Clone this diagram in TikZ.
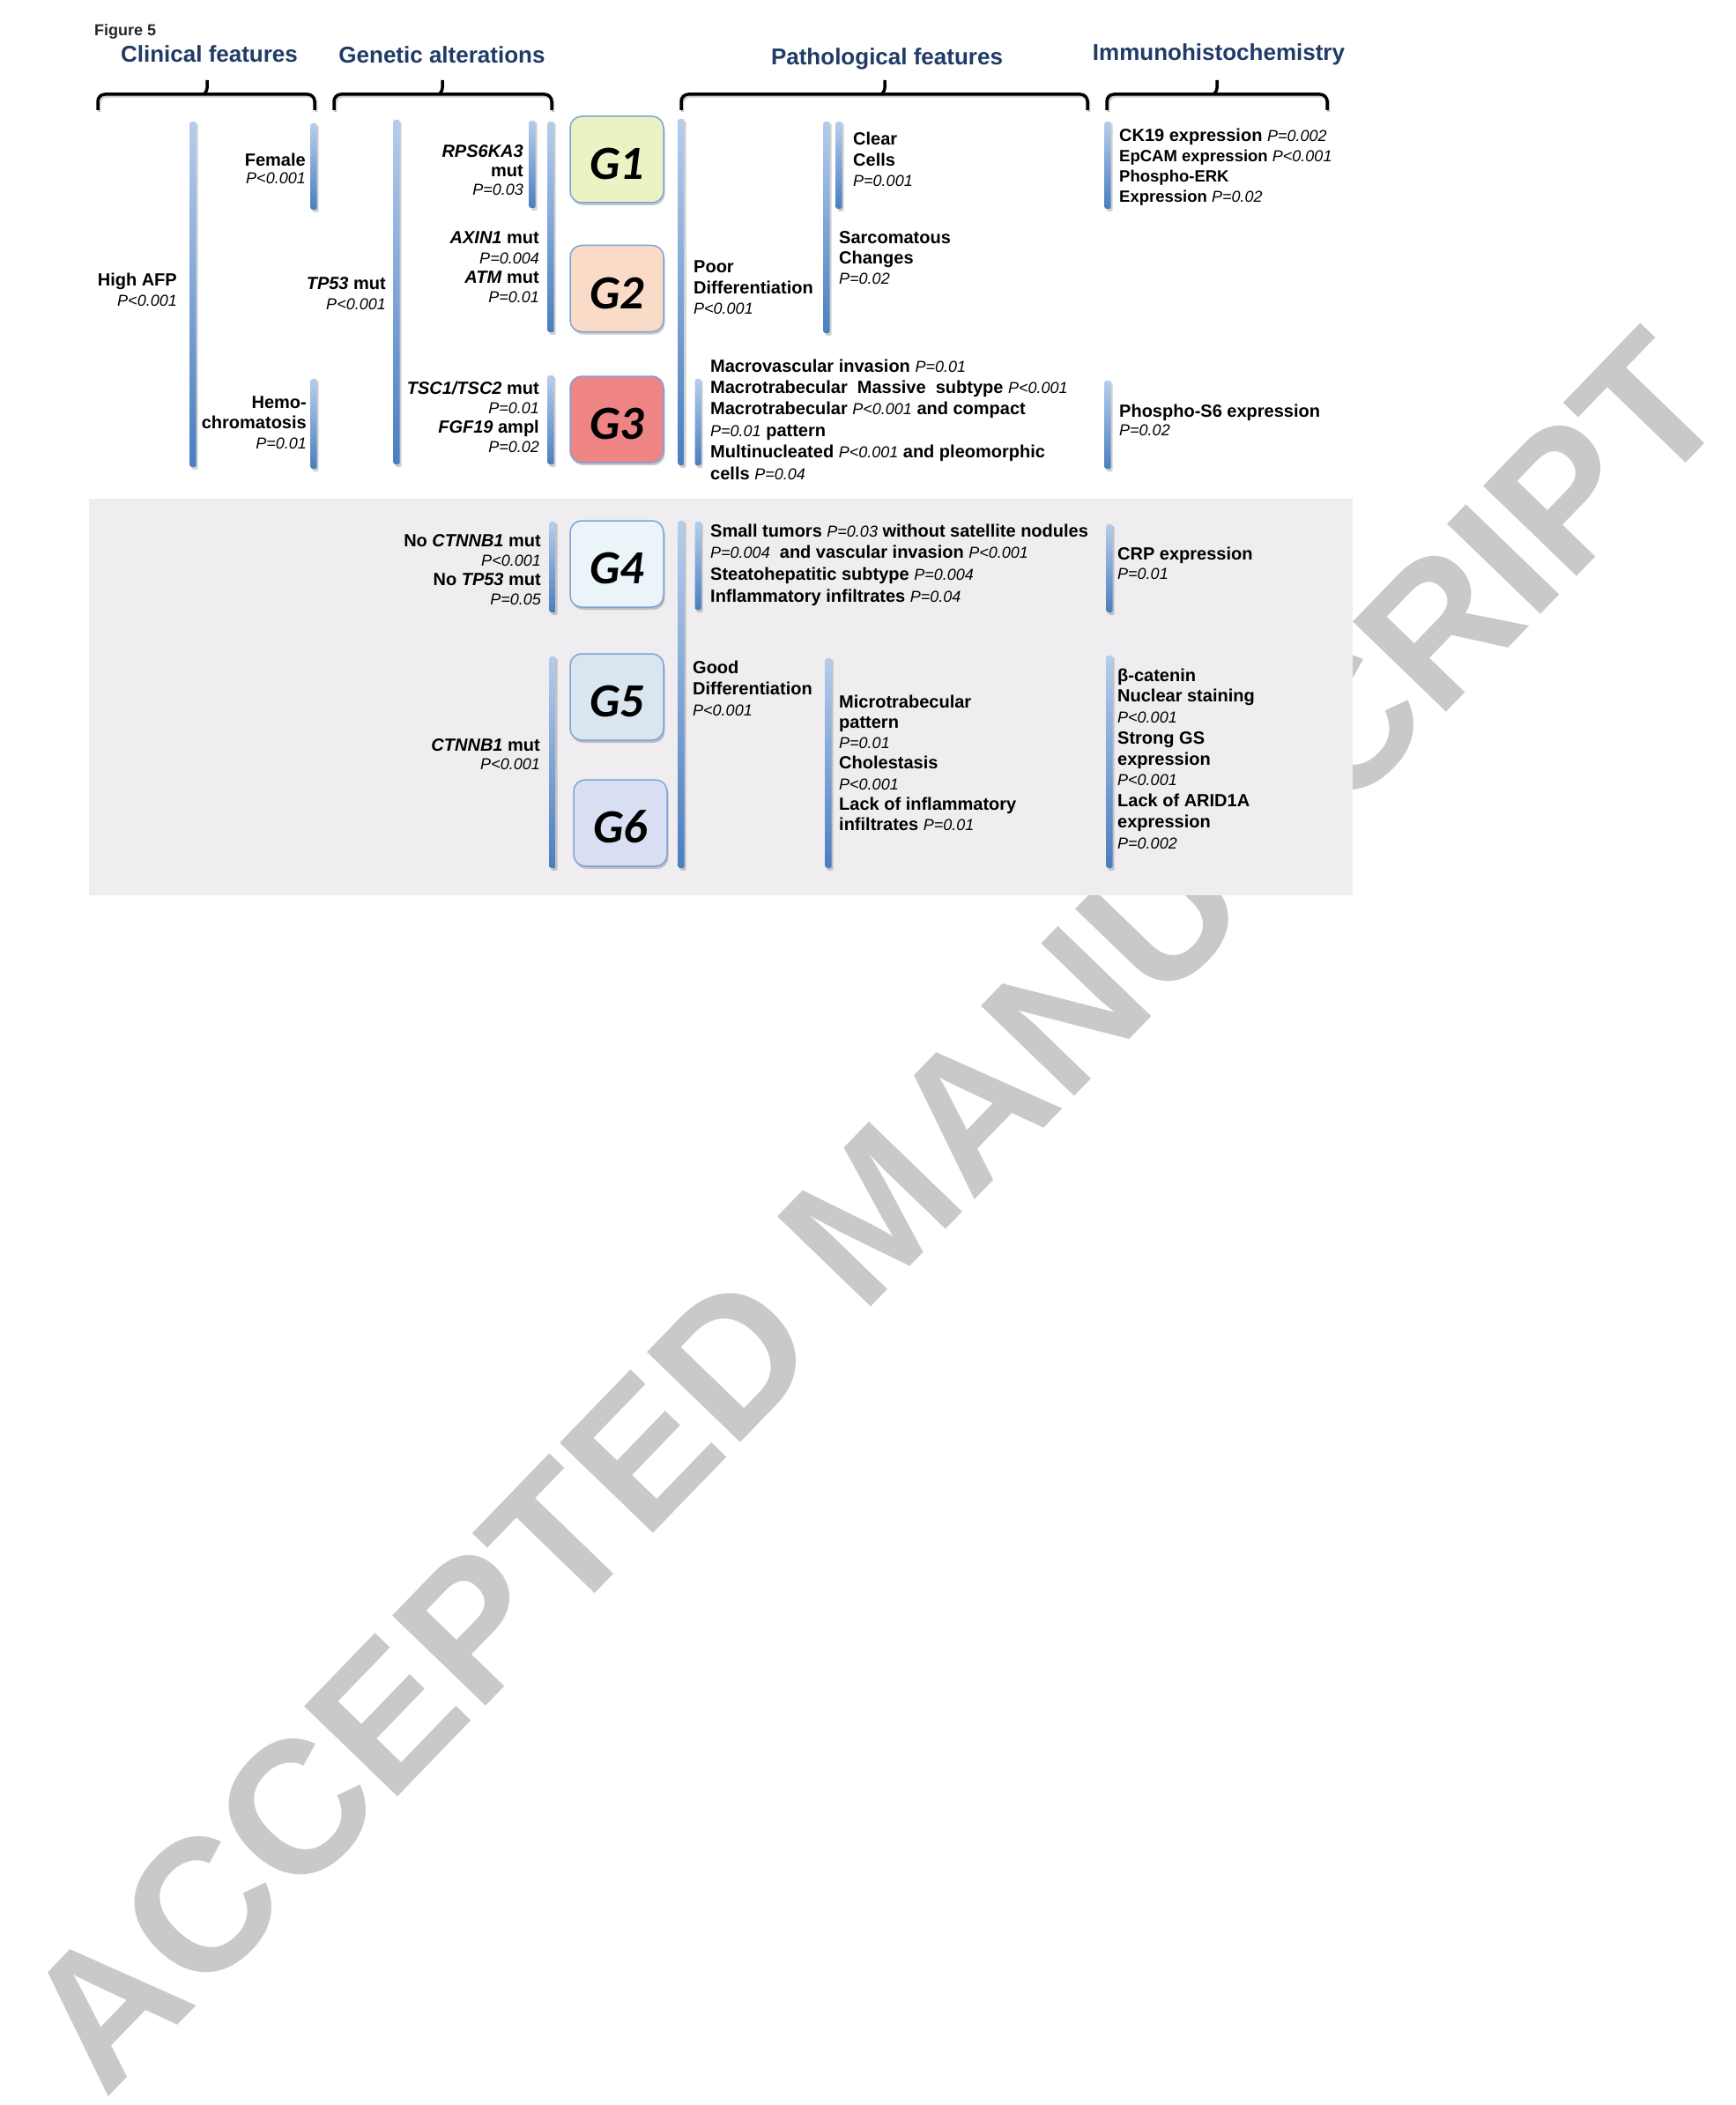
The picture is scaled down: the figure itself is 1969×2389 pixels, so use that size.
\documentclass[tikz,border=0pt]{standalone}
\usepackage{fontspec}
\setmainfont{Liberation Sans}
\newfontfamily\gfont{Carlito}
\usetikzlibrary{shadows}
\definecolor{navy}{HTML}{1F3B66}
\definecolor{wmgray}{HTML}{C8C9CB}
\definecolor{panelc}{HTML}{EFEDF0}
\definecolor{barT}{HTML}{B5CDEC}
\definecolor{barB}{HTML}{4A7EC0}
\definecolor{gborder}{HTML}{7FA3D6}
\definecolor{gA}{HTML}{EBF2C3}
\definecolor{gB}{HTML}{FADBC7}
\definecolor{gC}{HTML}{EF8485}
\definecolor{gD}{HTML}{EAF4F9}
\definecolor{gE}{HTML}{D9E5EF}
\definecolor{gF}{HTML}{D8DFF2}
\newcommand\pv[1]{{\fontsize{18}{22}\selectfont\mdseries\itshape #1}}
\newcommand\smf{\fontsize{18.5}{22}\selectfont}
\newcommand\rlines[2][23pt]{\vtop{\baselineskip=#1\relax\lineskiplimit=-100pt\lineskip=0pt\halign{\hfil##\unskip\cr#2\crcr}}}
\newcommand\llines[2][23pt]{\vtop{\baselineskip=#1\relax\lineskiplimit=-100pt\lineskip=0pt\halign{##\unskip\hfil\cr#2\crcr}}}
\newcommand\gbar[3]{%
  \fill[black,opacity=0.18,rounded corners=1.5pt] (#1-1.5,#2+2) rectangle (#1+5.5,#3+3);
  \shade[top color=barT,bottom color=barB,rounded corners=1.5pt] (#1-3.5,#2) rectangle (#1+3.5,#3);}
\newcommand\hbrace[3]{%
  \draw[brc,black!35,opacity=0.6,shift={(1.5,2)}] (#1,125) -- (#1,107) -- (#3,107) -- (#3,125);
  \draw[brc] (#1,125) -- (#1,107) -- (#3,107) -- (#3,125);
  \draw[line width=3.5pt,rounded corners=3pt] (#2-4,107) -- (#2,103) -- (#2,91);}
\begin{document}
\begin{tikzpicture}[x=1pt,y=-1pt,
  txt/.style={inner sep=0pt,font=\fontsize{20}{23}\selectfont\bfseries},
  rt/.style={txt,anchor=base east},
  lt/.style={txt,anchor=base west},
  hdr/.style={inner sep=0pt,anchor=base,text=navy,font=\fontsize{26}{30}\selectfont\bfseries},
  brc/.style={line width=3.5pt,rounded corners=8pt},
  gbox/.style={draw=gborder,line width=1.5pt,rounded corners=13pt,
    minimum width=106pt,minimum height=98pt,inner sep=0pt,
    text height=45pt,text depth=0pt,
    font=\fontsize{54}{54}\selectfont\gfont\bfseries\itshape,
    drop shadow={shadow xshift=1.5pt,shadow yshift=-3pt,opacity=0.35,fill=black!60}},
]
\useasboundingbox (0,0) rectangle (1969,2389);
\fill[white] (0,0) rectangle (1969,2389);
% watermark
\node[inner sep=0pt,rotate=46,text=wmgray,font=\fontsize{214}{214}\selectfont\bfseries] (wmark) at (992,1374) {ACCEPTED MANUSCRIPT};
% lower panel
\fill[panelc] (101,566) rectangle (1535,1016);

% figure label and headers
\node[inner sep=0pt,anchor=base west,font=\fontsize{18}{20}\selectfont\bfseries,text=black!85] (figlbl) at (107,41) {Figure 5};
\node[hdr] (hclin) at (237.5,71) {Clinical features};
\node[hdr] (hgen) at (501.5,72) {Genetic alterations};
\node[hdr] (hpath) at (1006.5,74) {Pathological features};
\node[hdr] (hihc) at (1383,69) {Immunohistochemistry};

% braces
\hbrace{111}{235}{357}
\hbrace{379}{502}{626}
\hbrace{773}{1004}{1234}
\hbrace{1256}{1381}{1506}

% bars, upper part
\gbar{219}{138}{530}
\gbar{356}{140}{238}
\gbar{356}{430}{532}
\gbar{450}{136}{527}
\gbar{604}{137}{236}
\gbar{625}{138}{377}
\gbar{625}{426}{527}
\gbar{773}{135}{528}
\gbar{938}{138}{378}
\gbar{952}{138}{237}
\gbar{792}{430}{528}
\gbar{1257}{138}{237}
\gbar{1257}{432}{532}
% bars, lower panel
\gbar{627}{592}{695}
\gbar{627}{745}{985}
\gbar{773}{591}{985}
\gbar{792}{592}{692}
\gbar{940}{747}{985}
\gbar{1259}{595}{695}
\gbar{1259}{744}{985}

% G boxes
\node[gbox,fill=gA] (g1) at (700,181) {G1};
\node[gbox,fill=gB] (g2) at (700,327.5) {G2};
\node[gbox,fill=gC] (g3) at (700,476) {G3};
\node[gbox,fill=gD] (g4) at (700,640) {G4};
\node[gbox,fill=gE] (g5) at (700,791) {G5};
\node[gbox,fill=gF] (g6) at (704,934) {G6};

% clinical features
\node[rt] (female) at (347,189) {\rlines[20pt]{Female\cr\pv{P<0.001}}};
\node[rt] (afp) at (201,325) {\rlines[23pt]{High AFP\cr\pv{P<0.001}}};
\node[rt] (hemo) at (348,463) {\rlines[23pt]{Hemo-\cr chromatosis\cr\pv{P=0.01}}};

% genetic alterations
\node[rt] (tp53) at (438,329) {\rlines[22pt]{\textit{TP53} mut\cr\pv{P<0.001}}};
\node[rt] (rps) at (594,179) {\rlines[21.5pt]{\textit{RPS6KA3}\cr mut\cr\pv{P=0.03}}};
\node[rt] (axin) at (612,277) {\rlines[22.3pt]{\textit{AXIN1} mut\cr\pv{P=0.004}\cr\textit{ATM} mut\cr\pv{P=0.01}}};
\node[rt] (tsc) at (612,447) {\rlines[22.3pt]{\textit{TSC1/TSC2} mut\cr\pv{P=0.01}\cr\textit{FGF19} ampl\cr\pv{P=0.02}}};
\node[rt] (noctn) at (614,620) {\rlines[22.3pt]{No \textit{CTNNB1} mut\cr\pv{P<0.001}\cr No \textit{TP53} mut\cr\pv{P=0.05}}};
\node[rt] (ctnn) at (613,852) {\rlines[21pt]{\textit{CTNNB1} mut\cr\pv{P<0.001}}};

% pathological features
\node[lt] (poor) at (787,310) {\llines[23.5pt]{Poor\cr Differentiation\cr\pv{P<0.001}}};
\node[lt] (clear) at (968,165) {\llines[23.5pt]{Clear\cr Cells\cr\pv{P=0.001}}};
\node[lt] (sarc) at (952,277) {\llines[23pt]{Sarcomatous\cr Changes\cr\pv{P=0.02}}};
\node[lt] (macro) at (806,422) {\llines[24.4pt]{Macrovascular invasion \pv{P=0.01}\cr
  Macrotrabecular\ \ Massive\ \ subtype \pv{P<0.001}\cr
  Macrotrabecular \pv{P<0.001} and compact\cr
  \pv{P=0.01} pattern\cr
  Multinucleated \pv{P<0.001} and pleomorphic\cr
  cells \pv{P=0.04}}};
\node[lt] (small) at (806,609) {\llines[24.7pt]{Small tumors \pv{P=0.03} without satellite nodules\cr
  \pv{P=0.004}\ \ and vascular invasion \pv{P<0.001}\cr
  Steatohepatitic subtype \pv{P=0.004}\cr
  Inflammatory infiltrates \pv{P=0.04}}};
\node[lt] (good) at (786,764) {\llines[24pt]{Good\cr Differentiation\cr\pv{P<0.001}}};
\node[lt] (micro) at (952,803) {\llines[23.3pt]{Microtrabecular\cr pattern\cr\pv{P=0.01}\cr Cholestasis\cr\pv{P<0.001}\cr Lack of inflammatory\cr infiltrates \pv{P=0.01}}};

% immunohistochemistry
\node[lt] (ck19) at (1270,161) {\llines[22.7pt]{CK19 expression \pv{P=0.002}\cr
  {\smf EpCAM expression \pv{P<0.001}}\cr
  {\smf Phospho-ERK}\cr
  {\smf Expression \pv{P=0.02}}}};
\node[lt] (s6) at (1270,473) {\llines[21pt]{Phospho-S6 expression\cr\pv{P=0.02}}};
\node[lt] (crp) at (1268,635) {\llines[22pt]{CRP expression\cr\pv{P=0.01}}};
\node[lt] (bcat) at (1268,773) {\llines[23.75pt]{β-catenin\cr Nuclear staining\cr\pv{P<0.001}\cr Strong GS\cr expression\cr\pv{P<0.001}\cr Lack of ARID1A\cr expression\cr\pv{P=0.002}}};
\end{tikzpicture}
\end{document}
